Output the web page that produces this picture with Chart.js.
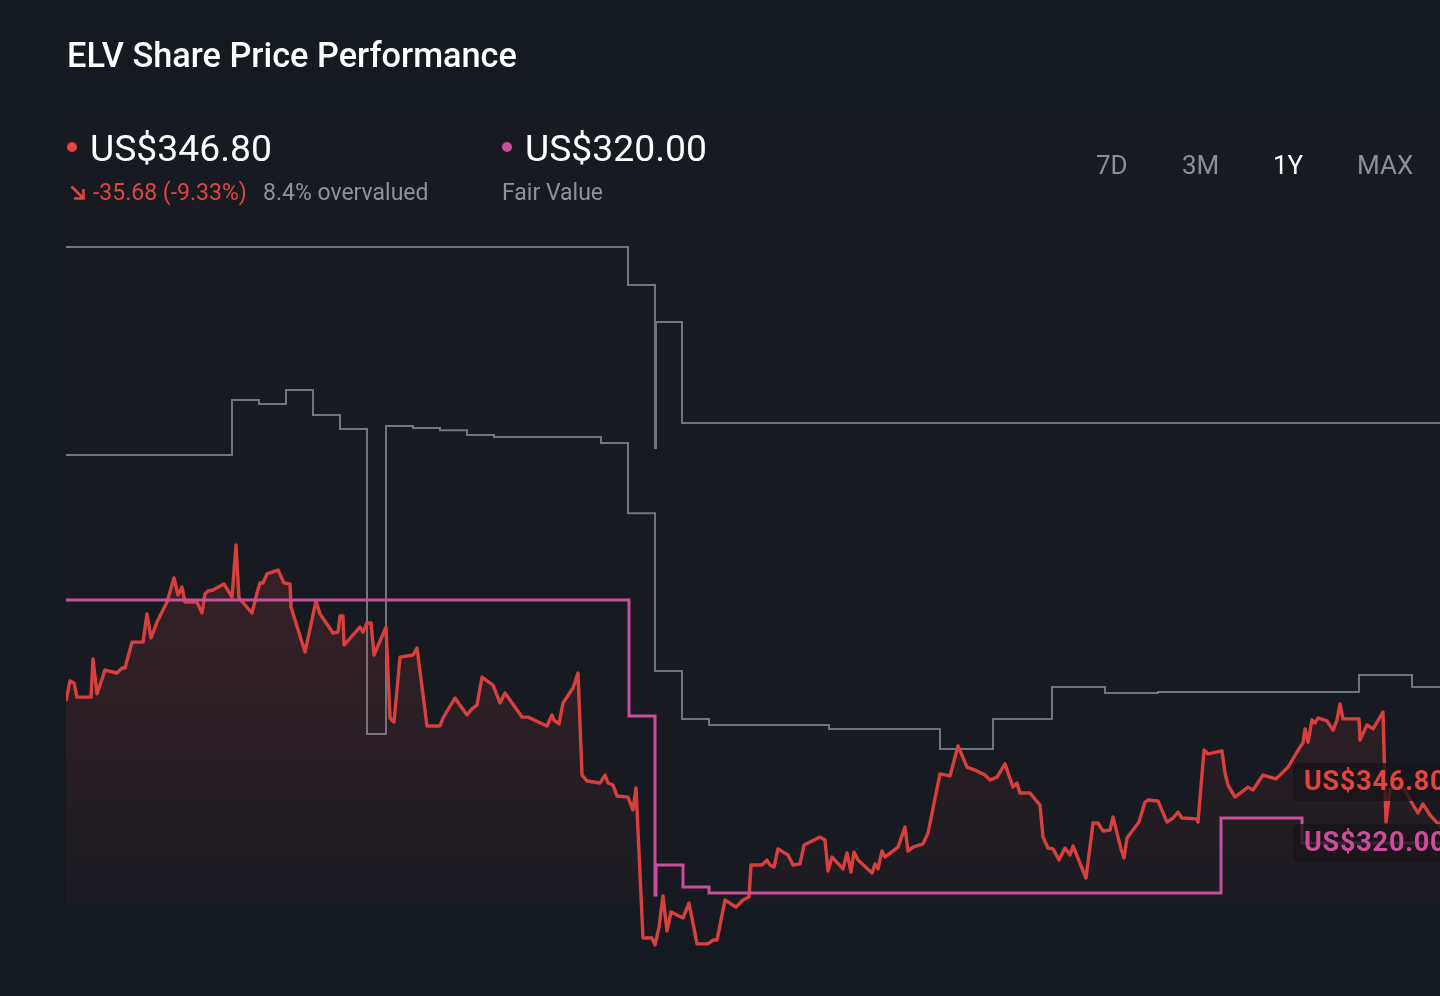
<!DOCTYPE html>
<html><head><meta charset="utf-8">
<script src="https://cdn.jsdelivr.net/npm/chart.js@4.4.1/dist/chart.umd.min.js"></script>
<style>
html,body{margin:0;padding:0;background:#151a21;overflow:hidden;width:1440px;height:996px;font-family:Roboto,"Noto Sans",sans-serif;}
#wrap{position:absolute;left:0;top:0;width:1460px;height:996px;}
canvas{position:absolute;left:0;top:0;}
.t{position:absolute;line-height:1;white-space:nowrap;}
.dot{position:absolute;width:10px;height:10px;border-radius:50%;}
</style></head><body>
<div id="wrap"><canvas id="c" width="1460" height="996" style="width:1460px;height:996px"></canvas></div>
<div class="t" style="left:67px;top:38px;font-size:34.3px;font-weight:500;color:#ffffff">ELV Share Price Performance</div>
<div class="dot" style="left:67px;top:142px;background:#e0453f"></div>
<div class="t" id="curPrice" style="left:90px;top:130px;font-size:37.3px;font-weight:400;color:#ffffff"></div>
<div class="dot" style="left:502px;top:142px;background:#c8509a"></div>
<div class="t" id="fvPrice" style="left:525px;top:130px;font-size:37.3px;font-weight:400;color:#ffffff"></div>
<svg style="position:absolute;left:68px;top:183px" width="20" height="20" viewBox="0 0 20 20"><path d="M3.5 3.5 L15 15 M15.5 6 L15.5 15.5 L6 15.5" stroke="#e0453f" stroke-width="2.6" fill="none"/></svg>
<div class="t" id="chg" style="left:93px;top:181px;font-size:23px;color:#e0453f"></div>
<div class="t" id="ov" style="left:263px;top:181px;font-size:23px;color:#8d939c"></div>
<div class="t" style="left:502px;top:181px;font-size:23px;color:#8d939c">Fair Value</div>
<div class="t" style="left:1096px;top:152px;font-size:26px;color:#8a9099">7D</div>
<div class="t" style="left:1182px;top:152px;font-size:26px;color:#8a9099">3M</div>
<div class="t" style="left:1273px;top:152px;font-size:26px;color:#ffffff">1Y</div>
<div class="t" style="left:1357px;top:152px;font-size:26px;color:#8a9099">MAX</div>
<script>
// ---- data (x = trading-day position, y = USD) ----
const lastPrice = 346.80;
const fairValue = 320.00;
const priceChange = -35.68;
const priceChangePct = -9.33;
const overvaluedPct = 8.4;

const priceX = [0,0.8,1.6,2.2,5,5.4,6.2,7.8,10.2,11.2,11.8,13.2,15.4,16.2,17,18.2,20.2,21.6,22.4,23.2,23.8,26.2,27.2,27.8,28.4,29.4,31.6,33.2,34,34.6,37.2,38.2,38.8,39.4,40.2,42.4,43.6,44.8,45,47.8,50,50.8,53.4,54.4,54.8,55.4,55.6,58.8,59.4,60.2,61,61.6,64,64.8,65.6,66.8,69.4,70.2,72.2,74.8,75.4,77.8,80.2,81.2,82.2,83.2,85.4,86.8,87.8,91.2,92.4,96.2,97.2,97.6,98.6,99.4,101.4,102.4,103.2,104.2,106.8,107.8,108.4,109.4,110.2,112.4,113.4,114,115.4,117.2,117.8,118.6,119.4,120.2,121,123.4,124.6,126.2,128.4,129.4,130.2,131.8,134,135.4,136.6,137,139.2,140.2,140.8,141.6,142.4,144.4,145.4,146.8,147.6,150.8,151.8,152.4,153.2,155.4,156.2,157,157.6,158.4,161.2,161.8,162.4,163.2,163.8,166.4,167.8,168.4,169.4,171.4,172.4,174.8,176.8,178.4,180.2,182.2,183.8,184.8,186.2,187.8,189.4,190.2,190.8,192.8,194.8,195.4,196.4,197.4,198.6,199.8,200.8,201.4,204,205.4,206.4,207.4,208.8,209.4,211,211.6,212.2,214.6,215.8,216.4,218.4,220.2,221.4,222.4,223.2,226.2,226.4,227.6,228.4,231.2,231.8,232.4,233.8,236.4,237.4,239.4,242,244.4,246.8,247.4,247.8,248.4,249.2,249.8,250.4,252.2,253.4,254.2,254.8,255.4,258.6,258.8,260.2,261.4,263.4,264,264.8,266.4,267.8,269.2,270.4,271.4,272.8,274.8,277];
const priceY = [382.5,391.3,390.4,384.2,384.2,401.0,385.6,396.1,394.8,397.0,397.0,408.4,408.4,420.8,410.2,417.2,426.0,436.6,429.1,432.6,426.0,426.0,421.2,429.6,430.9,431.3,434.0,428.2,451.1,427.8,421.2,430.0,434.4,434.4,438.4,440.1,434.4,434.0,423.8,404.0,426.5,420.8,412.4,412.8,419.9,419.9,407.1,415.0,412.8,416.8,416.8,402.7,415.0,375.0,373.2,401.8,402.7,405.8,371.5,371.5,375.0,383.8,376.3,379.0,380.7,393.0,389.5,381.6,386.0,375.4,375.4,371.5,376.3,374.1,372.4,381.6,388.2,394.8,349.9,347.3,346.4,349.9,346.4,345.5,340.7,340.2,334.5,344.2,278.2,278.2,275.1,283.0,296.7,281.3,289.6,287.0,293.6,275.6,275.6,277.3,277.3,294.9,291.8,294.9,296.2,310.3,310.3,312.5,310.3,309.4,317.4,314.7,310.3,310.8,319.1,322.6,321.3,307.7,313.8,308.6,315.6,307.2,316.0,312.5,306.8,310.8,308.6,316.5,313.8,318.2,327.0,316.5,318.2,319.6,324.4,350.4,349.5,362.7,353.4,351.7,349.9,347.7,349.0,354.8,344.6,346.4,342.0,342.0,336.7,322.6,317.8,317.4,312.5,317.8,314.7,318.7,304.6,328.8,328.8,325.3,325.7,331.4,317.4,313.4,322.2,329.2,338.0,338.9,338.5,329.2,331.0,333.6,331.0,330.6,329.2,360.9,359.2,360.5,350.8,345.5,340.2,344.6,343.3,349.9,348.2,353.4,362.2,364.0,370.2,364.4,374.1,372.8,375.0,373.7,369.7,374.1,381.2,374.6,374.6,365.3,371.9,370.2,377.6,329.2,343.3,345.5,343.3,337.6,333.2,337.2,332.3,327.5,346.8];

const fvX = [0,112.6,117.8,118,123.4,128.6,231,247.2,278.8];
const fvY = [426.9,375.9,297.1,310.3,300.6,298.0,331.0,320.0,320.0];

const upperX = [0,112.4,117.8,118,123.2,278.8];
const upperY = [582.2,565.5,493.8,549.2,504.8,504.8];

const lowerX = [0,33.2,38.6,44,49.4,54.8,60.2,64,69.4,74.8,80.2,85.6,107,112.4,117.8,123.2,128.6,152.6,174.8,185.4,197.2,207.8,218.4,258.6,269.2,278.8];
const lowerY = [490.7,514.9,513.2,519.3,508.3,502.2,368.0,503.5,502.6,501.6,499.5,498.6,496.0,465.1,395.7,374.6,371.9,370.2,361.4,374.6,388.6,386.0,386.4,393.9,388.6,388.6];

const xMin = 0, xMax = 278.8;
const yMin = 268.52, yMax = 639.0;
const fillBase = 292.72;

// ---- header texts ----
const fmt = v => 'US$' + v.toFixed(2);
document.getElementById('curPrice').textContent = fmt(lastPrice);
document.getElementById('fvPrice').textContent = fmt(fairValue);
document.getElementById('chg').textContent = priceChange.toFixed(2) + ' (' + priceChangePct.toFixed(2) + '%)';
document.getElementById('ov').textContent = overvaluedPct.toFixed(1) + '% overvalued';

const pts = (xs, ys) => xs.map((x, i) => ({x: x, y: ys[i]}));

const panelPlugin = {
  id: 'panel',
  beforeDatasetsDraw(chart) {
    const c = chart.ctx, a = chart.chartArea, y = chart.scales.y;
    c.save();
    c.fillStyle = 'rgba(224,70,63,0.012)';
    c.fillRect(a.left, a.top, a.right - a.left, y.getPixelForValue(fillBase) - a.top);
    c.restore();
  }
};

const labelPlugin = {
  id: 'endLabels',
  afterDatasetsDraw(chart) {
    const c = chart.ctx, y = chart.scales.y;
    const items = [[lastPrice, '#e0453f'], [fairValue, '#c8509a']];
    c.save();
    items.forEach(([v, col]) => {
      const cy = y.getPixelForValue(v);
      c.fillStyle = 'rgba(26,21,26,0.8)';
      c.beginPath();
      c.roundRect(1293, cy - 19, 200, 38, 6);
      c.fill();
      c.fillStyle = col;
      c.font = 'bold 27px Roboto, sans-serif';
      c.letterSpacing = '0.8px';
      c.textBaseline = 'middle';
      c.fillText(fmt(v), 1304, cy + 1);
    });
    c.restore();
  }
};

new Chart(document.getElementById('c').getContext('2d'), {
  type: 'line',
  data: {
    datasets: [
      { label: 'Fair Value', data: pts(fvX, fvY), borderColor: '#c8509a', borderWidth: 3, stepped: 'before', pointRadius: 0, fill: false, order: 0 },
      { label: 'Share Price', data: pts(priceX, priceY), borderColor: '#d8403e', borderWidth: 3.4, pointRadius: 0, tension: 0,
        borderJoinStyle: 'round',
        fill: { value: fillBase },
        backgroundColor: (ctx) => {
          const ch = ctx.chart; const a = ch.chartArea;
          if (!a) return 'rgba(224,70,63,0.08)';
          const ys = ch.scales.y;
          const g = ch.ctx.createLinearGradient(0, ys.getPixelForValue(455), 0, ys.getPixelForValue(fillBase));
          g.addColorStop(0, 'rgba(224,70,63,0.17)');
          g.addColorStop(1, 'rgba(224,70,63,0.02)');
          return g;
        },
        order: 1 },
      { label: 'Upper', data: pts(upperX, upperY), borderColor: '#6e7681', borderWidth: 2, stepped: 'before', pointRadius: 0, fill: false, order: 2 },
      { label: 'Lower', data: pts(lowerX, lowerY), borderColor: '#6e7681', borderWidth: 2, stepped: 'before', pointRadius: 0, fill: false, order: 2 }
    ]
  },
  options: {
    responsive: false,
    devicePixelRatio: 1,
    animation: false,
    layout: { padding: { left: 66, top: 118, right: 0, bottom: 36 } },
    plugins: { legend: { display: false }, tooltip: { enabled: false } },
    scales: {
      x: { type: 'linear', display: false, min: xMin, max: xMax },
      y: { display: false, min: yMin, max: yMax }
    }
  },
  plugins: [panelPlugin, labelPlugin]
});
</script>
</body></html>
